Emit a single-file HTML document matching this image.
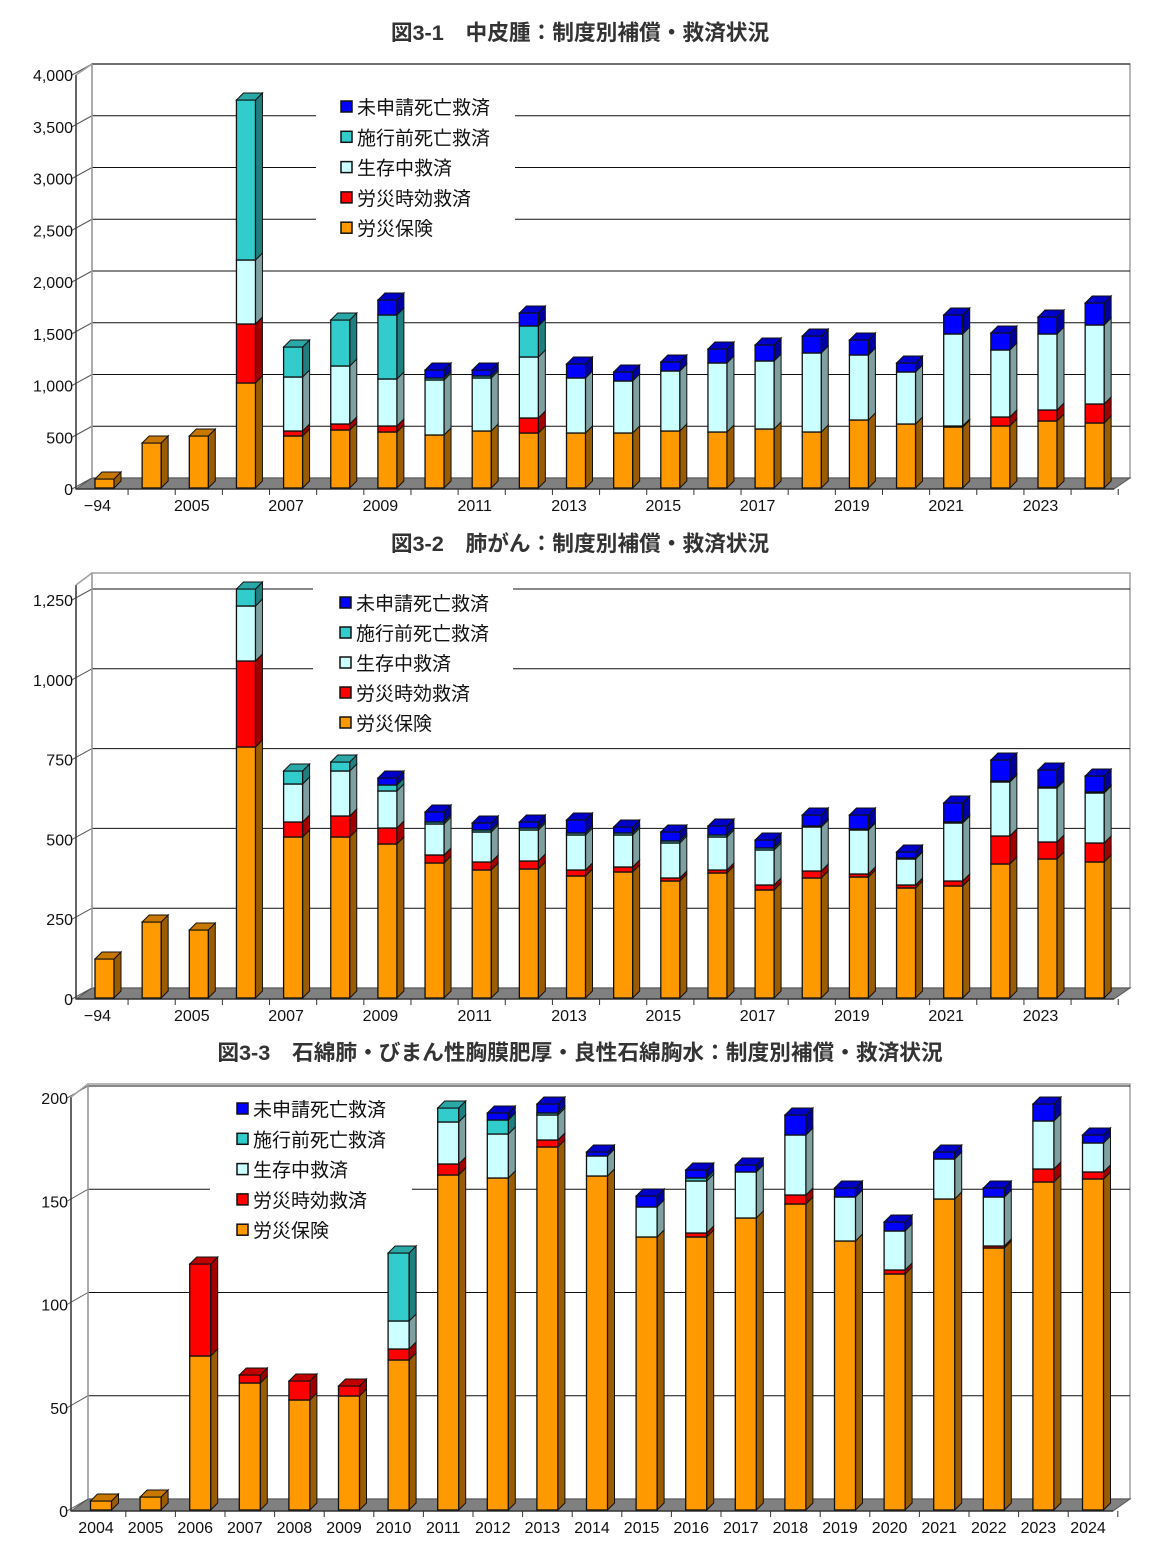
<!DOCTYPE html>
<html><head><meta charset="utf-8">
<style>
html,body{margin:0;padding:0;background:#fff;}
svg{display:block;}
text{font-family:"Liberation Sans","Noto Sans CJK JP",sans-serif;}
</style></head>
<body>
<svg id="s" width="1164" height="1554" viewBox="0 0 1164 1554" xmlns="http://www.w3.org/2000/svg"></svg>
<script>
var NS="http://www.w3.org/2000/svg",S=document.getElementById('s');
function el(t,a,txt){var e=document.createElementNS(NS,t);for(var k in a)e.setAttribute(k,a[k]);if(txt!=null)e.textContent=txt;S.appendChild(e);return e;}
var FR=['#FF9900','#FF0000','#CCFFFF','#33CCCC','#0000FF'];
var SD=['#9A5C00','#A00000','#7FA0A0','#1F7F7F','#0000A0'];
var TP=['#C87800','#C00000','#A8D8D8','#2AA8A8','#0000C8'];
var LEG=['未申請死亡救済','施行前死亡救済','生存中救済','労災時効救済','労災保険'];
function chart(c){
  el('text',{x:c.tx,y:c.ty,'font-size':21.7,'font-weight':'bold','text-anchor':'middle',fill:'#333'},c.title);
  var ax=c.ax,bx=c.ax+c.wdx,z=c.zero,dy=c.wdy,R=c.right;
  el('polygon',{points:(bx)+','+(c.btop)+' '+R+','+c.btop+' '+R+','+(z-dy)+' '+bx+','+(z-dy),fill:'#fff',stroke:'#A0A0A0','stroke-width':1.5});
  el('polygon',{points:ax+','+z+' '+(R-c.wdx)+','+z+' '+R+','+(z-dy)+' '+bx+','+(z-dy),fill:'#808080',stroke:'#555','stroke-width':1});
  for(var i=0;i<c.ticks.length;i++){
    var v=c.ticks[i],y=z-v*c.k;
    if(v>0){el('line',{x1:bx,y1:y-dy,x2:R,y2:y-dy,stroke:'#111','stroke-width':1});}
    el('line',{x1:ax-4,y1:y,x2:bx,y2:y-dy,stroke:'#555','stroke-width':1});
    el('text',{x:ax-3,y:y+6,'font-size':16,'text-anchor':'end',fill:'#111'},c.tl[i]);
  }
  el('line',{x1:bx,y1:c.btop,x2:bx,y2:z-dy,stroke:'#A0A0A0','stroke-width':1.5});
  el('line',{x1:ax,y1:c.atop,x2:ax,y2:z,stroke:'#333','stroke-width':1.5});
  el('line',{x1:ax,y1:c.atop,x2:bx,y2:c.btop,stroke:'#A0A0A0','stroke-width':1.5});
  el('line',{x1:ax,y1:z,x2:R-c.wdx,y2:z,stroke:'#333','stroke-width':1.5});
  el('rect',{x:c.lgx0,y:c.lgy-20,width:c.lgx1-c.lgx0,height:150,fill:'#fff'});
  for(var j=0;j<5;j++){var ly=c.lgy+j*c.lgs;
    el('rect',{x:c.lgx+1,y:ly-6,width:11,height:11,fill:FR[4-j],stroke:'#111','stroke-width':1.5});
    el('text',{x:c.lgx+17,y:ly+7,'font-size':19,fill:'#111'},LEG[j]);}
  var w=c.bw,d=7;
  for(var b=0;b<c.bars.length;b++){
    var cx=c.c0+b*c.sp,x0=cx-w/2,x1=cx+w/2,t=c.bars[b],prev=z-1,last=0;
    el('line',{x1:cx+c.sp/2,y1:z,x2:cx+c.sp/2,y2:z+6,stroke:'#333','stroke-width':1});
    for(var s=0;s<t.length;s++){var top=t[s];if(top>=prev-0.1){continue;}
      el('polygon',{points:x1+','+prev+' '+(x1+d)+','+(prev-d)+' '+(x1+d)+','+(top-d)+' '+x1+','+top,fill:SD[s],stroke:'#111','stroke-width':1});
      el('rect',{x:x0,y:top,width:w,height:prev-top,fill:FR[s],stroke:'#111','stroke-width':1.3});
      prev=top; last=s;}
    el('polygon',{points:x0+','+prev+' '+x1+','+prev+' '+(x1+d)+','+(prev-d)+' '+(x0+d)+','+(prev-d),fill:TP[last],stroke:'#111','stroke-width':1});
  }
  for(var b=0;b<c.xl.length;b++){ if(c.xl[b]==='')continue;
    el('text',{x:c.c0+b*c.sp-c.lo,y:z+22,'font-size':16,'text-anchor':'middle',fill:'#111'},c.xl[b]);}
}
var xl12=['−94','','2005','','2007','','2009','','2011','','2013','','2015','','2017','','2019','','2021','','2023',''];
chart({title:'図3-1　中皮腫：制度別補償・救済状況',tx:580,ty:40,ax:76,wdx:16,wdy:11,zero:489,k:0.1035,right:1130,btop:64,atop:75,
 ticks:[0,500,1000,1500,2000,2500,3000,3500,4000],tl:['0','500','1,000','1,500','2,000','2,500','3,000','3,500','4,000'],
 lgx:340,lgy:107,lgs:30.3,lgx0:316,lgx1:515,c0:104.5,sp:47.15,bw:19,lo:7,xl:xl12,
 bars:[[479],[443],[436],[383,324,260,100],[436,431,377,347],[430,424,366,320],[432,426,379,315,300],[435,435,380,378,370],[431,431,378,376,370],[433,418,357,326,313],[433,433,378,378,364],[433,433,381,381,372],[431,431,371,371,362],[432,432,363,363,349],[429,429,361,361,345],[432,432,353,353,336],[420,420,355,355,340],[424,424,372,372,363],[427,426,334,334,315],[426,417,350,350,333],[421,410,334,334,317],[423,404,325,325,303]]});
chart({title:'図3-2　肺がん：制度別補償・救済状況',tx:580,ty:551,ax:76,wdx:16,wdy:11,zero:999,k:0.3192,right:1130,btop:573,atop:585,
 ticks:[0,250,500,750,1000,1250],tl:['0','250','500','750','1,000','1,250'],
 lgx:339,lgy:603,lgs:30,lgx0:313,lgx1:513,c0:104.5,sp:47.15,bw:19,lo:7,xl:xl12,
 bars:[[959],[922],[930],[747,661,606,589],[837,822,784,771],[837,816,771,762],[844,828,791,785,778],[863,855,824,822,812],[870,862,832,830,823],[869,861,830,828,822],[876,870,835,833,820],[872,867,835,833,827],[881,878,843,841,832],[873,870,837,835,826],[890,885,850,848,840],[878,871,827,826,815],[877,874,830,829,815],[888,885,859,858,852],[886,881,823,822,803],[864,836,782,781,760],[859,842,788,787,770],[862,843,793,792,776]]});
var xl3=[];for(var y=2004;y<=2024;y++)xl3.push(''+y);
chart({title:'図3-3　石綿肺・びまん性胸膜肥厚・良性石綿胸水：制度別補償・救済状況',tx:580,ty:1060,ax:71,wdx:17,wdy:12,zero:1511,k:2.065,right:1130,btop:1084,atop:1097,
 ticks:[0,50,100,150,200],tl:['0','50','100','150','200'],
 lgx:236,lgy:1109,lgs:30.3,lgx0:210,lgx1:412,c0:101,sp:49.6,bw:21,lo:5,xl:xl3,
 bars:[[1501],[1497],[1356,1264],[1383,1375],[1400,1381],[1396,1386],[1360,1349,1321,1253],[1175,1164,1122,1108],[1178,1178,1134,1120,1113],[1147,1140,1115,1113,1104],[1176,1176,1156,1156,1152],[1237,1237,1207,1207,1196],[1237,1233,1181,1178,1170],[1218,1218,1172,1172,1165],[1204,1195,1135,1135,1115],[1241,1241,1197,1197,1188],[1274,1270,1231,1231,1222],[1199,1199,1159,1159,1152],[1248,1246,1197,1197,1188],[1182,1169,1121,1121,1104],[1179,1172,1143,1143,1135]]});
</script>
</body></html>
